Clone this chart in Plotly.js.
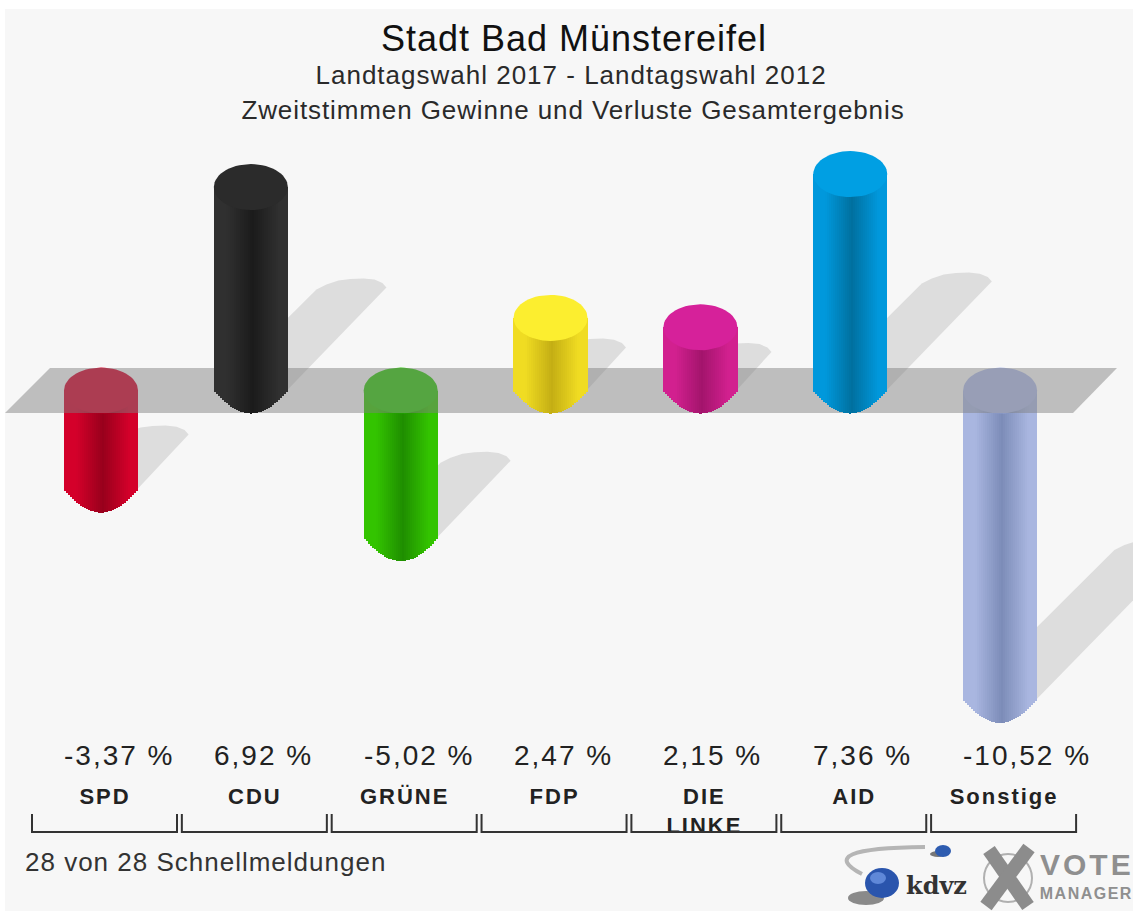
<!DOCTYPE html>
<html><head><meta charset="utf-8">
<script src="https://cdn.plot.ly/plotly-3.0.1.min.js"></script>
<style>html,body{margin:0;padding:0;background:#fff}
.gtitle{letter-spacing:1px}
.annotation[data-index="0"] text{letter-spacing:1px}
.annotation[data-index="1"] text{letter-spacing:.9px}
.annotation[data-index="2"] text{letter-spacing:1px}
.annotation[data-index="4"] text{letter-spacing:3px}
.annotation[data-index="5"] text{letter-spacing:1.5px}
.annotation[data-index="6"] text,.annotation[data-index="7"] text,.annotation[data-index="8"] text,.annotation[data-index="9"] text,.annotation[data-index="10"] text,.annotation[data-index="11"] text,.annotation[data-index="12"] text{letter-spacing:2px}
.xtick text{letter-spacing:2px}
</style></head>
<body><div id="chart" style="width:1133px;height:911px"></div>
<script>
const categories = ['SPD','CDU','GRÜNE','FDP','DIE<br>LINKE','AID','Sonstige'];
const values = [-3.37,6.92,-5.02,2.47,2.15,7.36,-10.52];
const valueLabels = ['-3,37 %','6,92 %','-5,02 %','2,47 %','2,15 %','7,36 %','-10,52 %'];
const capColors = ['#d5002a','#2b2b2b','#2ec808','#fcee2f','#d6219a','#009fe3','#aebbe8'];
const edgeColors = ['#d4002a','#303030','#33c400','#f0dc22','#d2208f','#0098dc','#a9b6e0'];
const darkColors = ['#98001c','#1b1b1b','#1f8e00','#c4ae14','#a3146c','#00709f','#7c8cb8'];
const titleLines = ['Stadt Bad Münstereifel','Landtagswahl 2017 - Landtagswahl 2012','Zweitstimmen Gewinne und Verluste Gesamtergebnis'];
const footnote = '28 von 28 Schnellmeldungen';

// pixel geometry of the picture -> axis scales
const W=1133,H=911,plotBottom=776;
const catPx=149.85, unitPx=29.4, x0Px=101, y0Px=390.5;
const RX=37, RY=23;
const xRange=[-x0Px/catPx,(W-x0Px)/catPx];
const yRange=[(y0Px-plotBottom)/unitPx,y0Px/unitPx];
const dx=p=>p/catPx, dy=p=>p/unitPx;
const xpx=p=>(p-x0Px)/catPx, ypx=p=>(y0Px-p)/unitPx;
const paperX=p=>p/W, paperY=p=>(plotBottom-p)/plotBottom;
const hex=c=>[1,3,5].map(i=>parseInt(c.substr(i,2),16));
const mix=(a,b,t)=>{const A=hex(a),B=hex(b);return 'rgb('+A.map((v,i)=>Math.round(v+(B[i]-v)*t)).join(',')+')';};

const traces=[];
const base={hoverinfo:'skip',showlegend:false};
const idx=values.map((_,i)=>i);
const neg=idx.filter(i=>values[i]<0), pos=idx.filter(i=>values[i]>=0);

// ground shadows (axes x,y)
const SH=0.46;
const tip=[[42,-9.5],[38,-14],[30,-17.3],[19,-18.5],[6,-18],[-6,-16.5],[-18,-12.5],[-28,-7.5]];
idx.forEach(i=>{
  const len=Math.abs(values[i])*unitPx*SH;
  const bx=i, by=values[i]<0?values[i]:0;
  const xs=[bx+dx(36)],ys=[by];
  tip.forEach(t=>{xs.push(bx+dx(len+t[0]));ys.push(by+dy(len-t[1]));});
  xs.push(bx-dx(36));ys.push(by);
  traces.push(Object.assign({type:'scatter',mode:'lines',x:xs,y:ys,fill:'toself',fillcolor:'#dddddd',line:{width:0}},base));
});

// cylinder bodies: one bar trace per vertical shading strip
const N=37, stripPx=RX*2/N;
function strips(list,ax,ay){
  for(let s=0;s<N;s++){
    const u=(s+0.5)/N*2-1;
    const e=dy(RY*Math.pow(1-u*u,1.05));
    const t=Math.min(1,Math.abs(u-0.05)/0.72);
    traces.push(Object.assign({type:'bar',xaxis:ax,yaxis:ay,
      x:list.map(i=>i+u*dx(RX)),
      y:list.map(i=>values[i]<0?values[i]-e:values[i]+e),
      base:list.map(i=>values[i]<0?0:-e),
      width:list.map(()=>dx(stripPx+0.4)),
      marker:{color:list.map(i=>mix(darkColors[i],edgeColors[i],t)),line:{width:0}}},base));
  }
}
function caps(list,ax,ay){
  list.forEach(i=>{
    const xs=[],ys=[],cy=values[i]<0?0:values[i];
    for(let k=0;k<=60;k++){const a=k/60*2*Math.PI;xs.push(i+dx(RX)*Math.cos(a));ys.push(cy+dy(RY)*Math.sin(a));}
    traces.push(Object.assign({type:'scatter',mode:'lines',xaxis:ax,yaxis:ay,x:xs,y:ys,fill:'toself',fillcolor:capColors[i],line:{width:0}},base));
  });
}
// losses sit under the grey plane, gains in front of it
strips(neg,'x2','y2'); caps(neg,'x2','y2');
traces.push(Object.assign({type:'scatter',mode:'lines',xaxis:'x2',yaxis:'y2',
  x:[xpx(5),xpx(50),xpx(1117),xpx(1073),xpx(5)],
  y:[ypx(413),ypx(368),ypx(368),ypx(413),ypx(413)],
  fill:'toself',fillcolor:'rgba(128,128,128,0.48)',line:{width:0}},base));
strips(pos,'x3','y3'); caps(pos,'x3','y3');

// label rows
const annotations=[
  {text:titleLines[1],xref:'paper',yref:'paper',x:paperX(571),y:paperY(75),xanchor:'center',yanchor:'middle',showarrow:false,font:{size:26,color:'#2a2a2a'}},
  {text:titleLines[2],xref:'paper',yref:'paper',x:paperX(573),y:paperY(110),xanchor:'center',yanchor:'middle',showarrow:false,font:{size:26,color:'#2a2a2a'}},
  {text:footnote,xref:'paper',yref:'paper',x:paperX(36),y:paperY(862),xanchor:'left',yanchor:'middle',showarrow:false,font:{size:26,color:'#333'}},
  {text:'kdvz',xref:'paper',yref:'paper',x:paperX(937),y:paperY(885),xanchor:'center',yanchor:'middle',showarrow:false,font:{family:'DejaVu Serif',size:24,color:'#333',weight:700}},
  {text:'VOTE',xref:'paper',yref:'paper',x:paperX(1087),y:paperY(864),xanchor:'center',yanchor:'middle',showarrow:false,font:{size:30,color:'#8f8f8f',weight:700}},
  {text:'MANAGER',xref:'paper',yref:'paper',x:paperX(1086),y:paperY(894),xanchor:'center',yanchor:'middle',showarrow:false,font:{size:16,color:'#8f8f8f',weight:700}}
];
valueLabels.forEach((t,i)=>annotations.push({text:t,xref:'x',yref:'paper',x:i-dx(38-t.length),y:paperY(755),xanchor:'left',yanchor:'middle',showarrow:false,borderpad:0,font:{size:28,color:'#222'}}));

const shapes=[
  {type:'rect',layer:'below',xref:'paper',yref:'paper',x0:paperX(5),x1:paperX(W),y0:paperY(9),y1:paperY(H),fillcolor:'#f7f7f7',line:{width:0}}
];
categories.forEach((_,i)=>{
  const l=32+catPx*i,r=177+catPx*i;
  shapes.push({type:'path',xref:'paper',yref:'paper',
    path:`M${paperX(l)},${paperY(814)}L${paperX(l)},${paperY(832)}L${paperX(r)},${paperY(832)}L${paperX(r)},${paperY(814)}`,
    line:{color:'#333',width:2}});
});
// logos
const circle=(cx,cy,rx,ry,fill,line)=>({type:'circle',xref:'paper',yref:'paper',x0:paperX(cx-rx),x1:paperX(cx+rx),y0:paperY(cy+ry),y1:paperY(cy-ry),fillcolor:fill,line:line||{width:0}});
const seg=(a,b,c,d,w,col)=>({type:'line',xref:'paper',yref:'paper',x0:paperX(a),y0:paperY(b),x1:paperX(c),y1:paperY(d),line:{width:w,color:col}});
shapes.push(
  {type:'path',xref:'paper',yref:'paper',path:`M${paperX(925)},${paperY(847)}Q${paperX(812)},${paperY(848)},${paperX(862)},${paperY(874)}`,line:{color:'#b5b5b5',width:4}},
  circle(938,854,8,3,'#777'),circle(943,851,8,6,'#2e5cb0'),
  circle(866,898,18,7,'#8a8a8a'),circle(882,883,17,15,'#2a55ad'),circle(878,878,8,6,'#5f88d8'),
  circle(1008,878,24,24,'rgba(0,0,0,0)',{color:'#b0b0b0',width:2}),
  seg(989,850,1028,906,14,'#8c8c8c'),seg(1029,848,986,906,14,'#8c8c8c')
);

const hidden={visible:false,fixedrange:true};
const layout={
  width:W,height:H,autosize:false,
  margin:{l:0,r:0,t:0,b:H-plotBottom,pad:0},
  paper_bgcolor:'#ffffff',plot_bgcolor:'rgba(0,0,0,0)',
  font:{family:'"Liberation Sans",Arial,sans-serif',color:'#222'},
  barmode:'overlay',bargap:0,showlegend:false,
  title:{text:titleLines[0],font:{size:36,color:'#111'},x:paperX(574),xanchor:'center',xref:'paper',y:1-38/H,yanchor:'middle'},
  xaxis:{type:'linear',range:xRange,fixedrange:true,showgrid:false,zeroline:false,showline:false,
    tickmode:'array',tickvals:categories.map((_,i)=>i+dx(4)),ticktext:categories,
    ticks:'outside',ticklen:1,tickcolor:'rgba(0,0,0,0)',tickfont:{size:22,color:'#222',weight:700}},
  yaxis:{type:'linear',range:yRange,visible:false,fixedrange:true},
  xaxis2:Object.assign({overlaying:'x',range:xRange,type:'linear'},hidden),
  yaxis2:Object.assign({overlaying:'y',range:yRange,type:'linear'},hidden),
  xaxis3:Object.assign({overlaying:'x',range:xRange,type:'linear'},hidden),
  yaxis3:Object.assign({overlaying:'y',range:yRange,type:'linear'},hidden),
  annotations,shapes
};
Plotly.newPlot('chart',traces,layout,{displayModeBar:false,staticPlot:true});
</script></body></html>
